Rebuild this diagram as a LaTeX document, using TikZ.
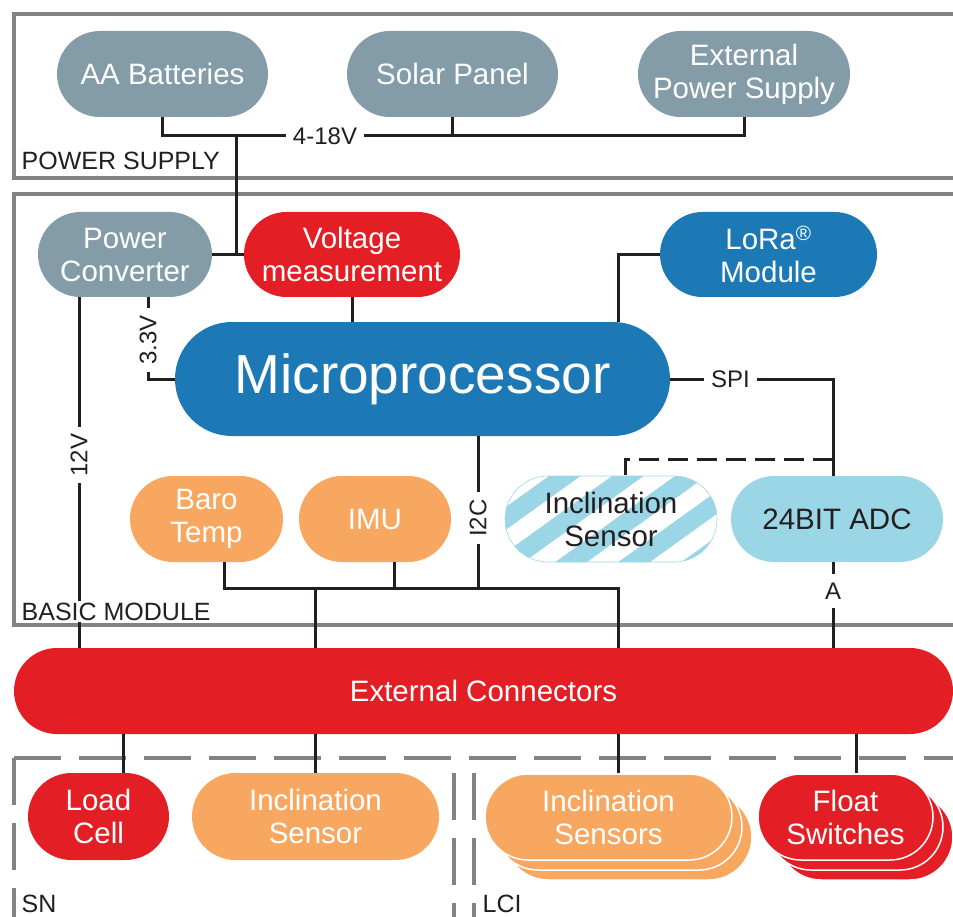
\documentclass[tikz,border=0pt]{standalone}
\usepackage{fontspec}
\setmainfont{Liberation Sans}
\usetikzlibrary{calc}

\definecolor{psgray}{HTML}{849CA8}
\definecolor{sysred}{HTML}{E31F25}
\definecolor{sysblue}{HTML}{1D79B5}
\definecolor{sysorange}{HTML}{F7A760}
\definecolor{adcblue}{HTML}{9BD6E6}
\definecolor{framegray}{HTML}{808285}
\definecolor{wirecol}{HTML}{231F20}

\begin{document}
\begin{tikzpicture}[
  x=1pt, y=-1pt,
  every node/.style={align=center},
  blk/.style={rectangle, rounded corners=43pt, minimum height=86pt,
              inner sep=0pt, text=white, font=\fontsize{29.5}{33}\selectfont},
  psblk/.style={blk, fill=psgray},
  redblk/.style={blk, fill=sysred},
  blueblk/.style={blk, fill=sysblue},
  orangeblk/.style={blk, fill=sysorange},
  stackline/.style={draw=white, line width=1.5pt},
  wire/.style={line width=3pt, draw=wirecol},
  boxline/.style={line width=4pt, draw=framegray},
  dashline/.style={boxline, dash pattern=on 47pt off 18pt},
  tag/.style={font=\fontsize{24}{27}\selectfont, text=wirecol, fill=white,
              inner sep=7pt},
  region/.style={font=\fontsize{25}{27}\selectfont, text=wirecol, fill=white,
                 anchor=base west, inner sep=1.5pt, text depth=0pt}
]
\useasboundingbox (0,0) rectangle (953,917);

% ── frames ──────────────────────────────────────────────────────────
\draw[boxline] (960,14) -- (14,14) -- (14,178) -- (960,178);
\draw[boxline] (960,194) -- (14,194) -- (14,625) -- (960,625);
\draw[dashline] (14,758) -- (960,758);
\draw[dashline] (14,758) -- (14,917);
\draw[dashline] (454,773) -- (454,917);
\draw[dashline] (474,773) -- (474,917);

% ── power supply ────────────────────────────────────────────────────
\node[psblk, minimum width=211pt] (aa) at (162.5,74) {AA Batteries};
\node[psblk, minimum width=211pt] (solar) at (452.5,74) {Solar Panel};
\node[psblk, minimum width=212pt] (extps) at (744,74) {External\\Power Supply};

% ── basic module ────────────────────────────────────────────────────
\node[psblk, minimum width=174pt, minimum height=85pt, rounded corners=42.5pt]
  (pc) at (125,254.5) {Power\\Converter};
\node[redblk, minimum width=216pt, minimum height=85pt, rounded corners=42.5pt]
  (vm) at (352,254.5) {Voltage\\measurement};
\node[blueblk, minimum width=217pt, minimum height=85pt, rounded corners=42.5pt]
  (lora) at (768.5,254.5) {LoRa\textsuperscript{\textregistered}\\Module};
\node[blueblk, minimum width=495pt, minimum height=114pt, rounded corners=57pt,
      font=\fontsize{55}{60}\selectfont]
  (mcu) at (422.5,379) {Microprocessor};

\node[orangeblk, minimum width=153pt] (baro) at (206.5,519) {Baro\\Temp};
\node[orangeblk, minimum width=152pt] (imu) at (375,519) {IMU};
\node[blk, minimum width=212pt, fill=white, draw=adcblue, line width=0.6pt,
      text=wirecol,
      path picture={
        \foreach \k in {-5,...,5}
          \draw[adcblue, line width=18.4pt]
            ($(path picture bounding box.center)+(\k*63+20,0)$)
            +(-160,115) -- +(160,-115);
      }]
  (incl) at (611,519) {Inclination\\Sensor};
\node[blk, minimum width=212pt, fill=adcblue, text=wirecol]
  (adc) at (837,519) {24BIT ADC};

% ── connectors and attached sensors ─────────────────────────────────
\node[redblk, minimum width=939pt] (extc) at (483.5,691) {External Connectors};

\node[redblk, minimum width=141pt, minimum height=87pt, rounded corners=43.5pt]
  (load) at (98.5,816.5) {Load\\Cell};
\node[orangeblk, minimum width=247pt, minimum height=87pt, rounded corners=43.5pt]
  (inclsn) at (315.5,816.5) {Inclination\\Sensor};

\node[orangeblk, stackline, minimum width=247pt] (incls3) at (628.5,837) {};
\node[orangeblk, stackline, minimum width=247pt] (incls2) at (618.5,827) {};
\node[orangeblk, stackline, minimum width=247pt] (incls) at (608.5,817)
  {Inclination\\Sensors};

\node[redblk, stackline, minimum width=175pt] (fs3) at (865.5,837) {};
\node[redblk, stackline, minimum width=175pt] (fs2) at (855.5,827) {};
\node[redblk, stackline, minimum width=175pt] (fs) at (845.5,817)
  {Float\\Switches};

% ── wiring ──────────────────────────────────────────────────────────
\coordinate (rail) at (236,136);
\draw[wire] (aa.south) |- (extps.south |- rail) -- (extps.south);
\draw[wire] (solar.south) -- (solar.south |- rail);
\draw[wire] (rail) -- (rail |- vm.west);
\draw[wire] (pc.east) -- (vm.west);

\draw[wire] ($(pc.south)+(23,0)$) |- (mcu.west);
\draw[wire] ($(pc.south)+(-46,0)$) coordinate (v12) -- (v12 |- extc.north);
\draw[wire] (vm.south) -- (vm.south |- mcu.north);
\draw[wire] (lora.west) -| ($(mcu.north east)+(-52,0)$);
\draw[wire] (mcu.east) -| ($(adc.north)+(-4,0)$) coordinate (adcin);
\draw[wire, dash pattern=on 20pt off 9pt]
  ($(adcin)+(0,-16)$) -| ($(incl.north)+(14,0)$);
\draw[wire] (adc.south -| adcin) -- (adcin |- extc.north);

\coordinate (sbus) at (618,588);
\draw[wire] ($(baro.south)+(17.5,0)$) |- (sbus) -- (sbus |- extc.north);
\draw[wire] ($(imu.south)+(19,0)$) coordinate (imuout) -- (imuout |- sbus);
\draw[wire] ($(mcu.south)+(55.5,0)$) coordinate (i2c) -- (i2c |- sbus);
\draw[wire] (inclsn.north |- sbus) -- (inclsn.north |- extc.north);

\draw[wire] ($(load.north)+(24.5,0)$) coordinate (lcin) -- (lcin |- extc.south);
\draw[wire] (inclsn.north) -- (inclsn.north |- extc.south);
\draw[wire] (sbus |- incls.north) -- (sbus |- extc.south);
\draw[wire] ($(fs.north)+(10.5,0)$) coordinate (fsin) -- (fsin |- extc.south);

% ── line labels ─────────────────────────────────────────────────────
\node[tag] (t418) at (325,136) {4-18V};
\node[tag, rotate=90] (t33) at (148,340) {3.3V};
\node[tag, rotate=90] (t12) at (79,455) {12V};
\node[tag] (tspi) at (730.5,379) {SPI};
\node[tag, rotate=90] (ti2c) at (478,518) {I2C};
\node[tag, inner ysep=9pt] (ta) at (833,591) {A};

% ── region labels ───────────────────────────────────────────────────
\node[region] (lps) at (20,170) {POWER SUPPLY};
\node[region] (lbm) at (20,620) {BASIC MODULE};
\node[region] (lsn) at (20,912) {SN};
\node[region] (llci) at (481,912) {LCI};

\end{tikzpicture}
\end{document}
